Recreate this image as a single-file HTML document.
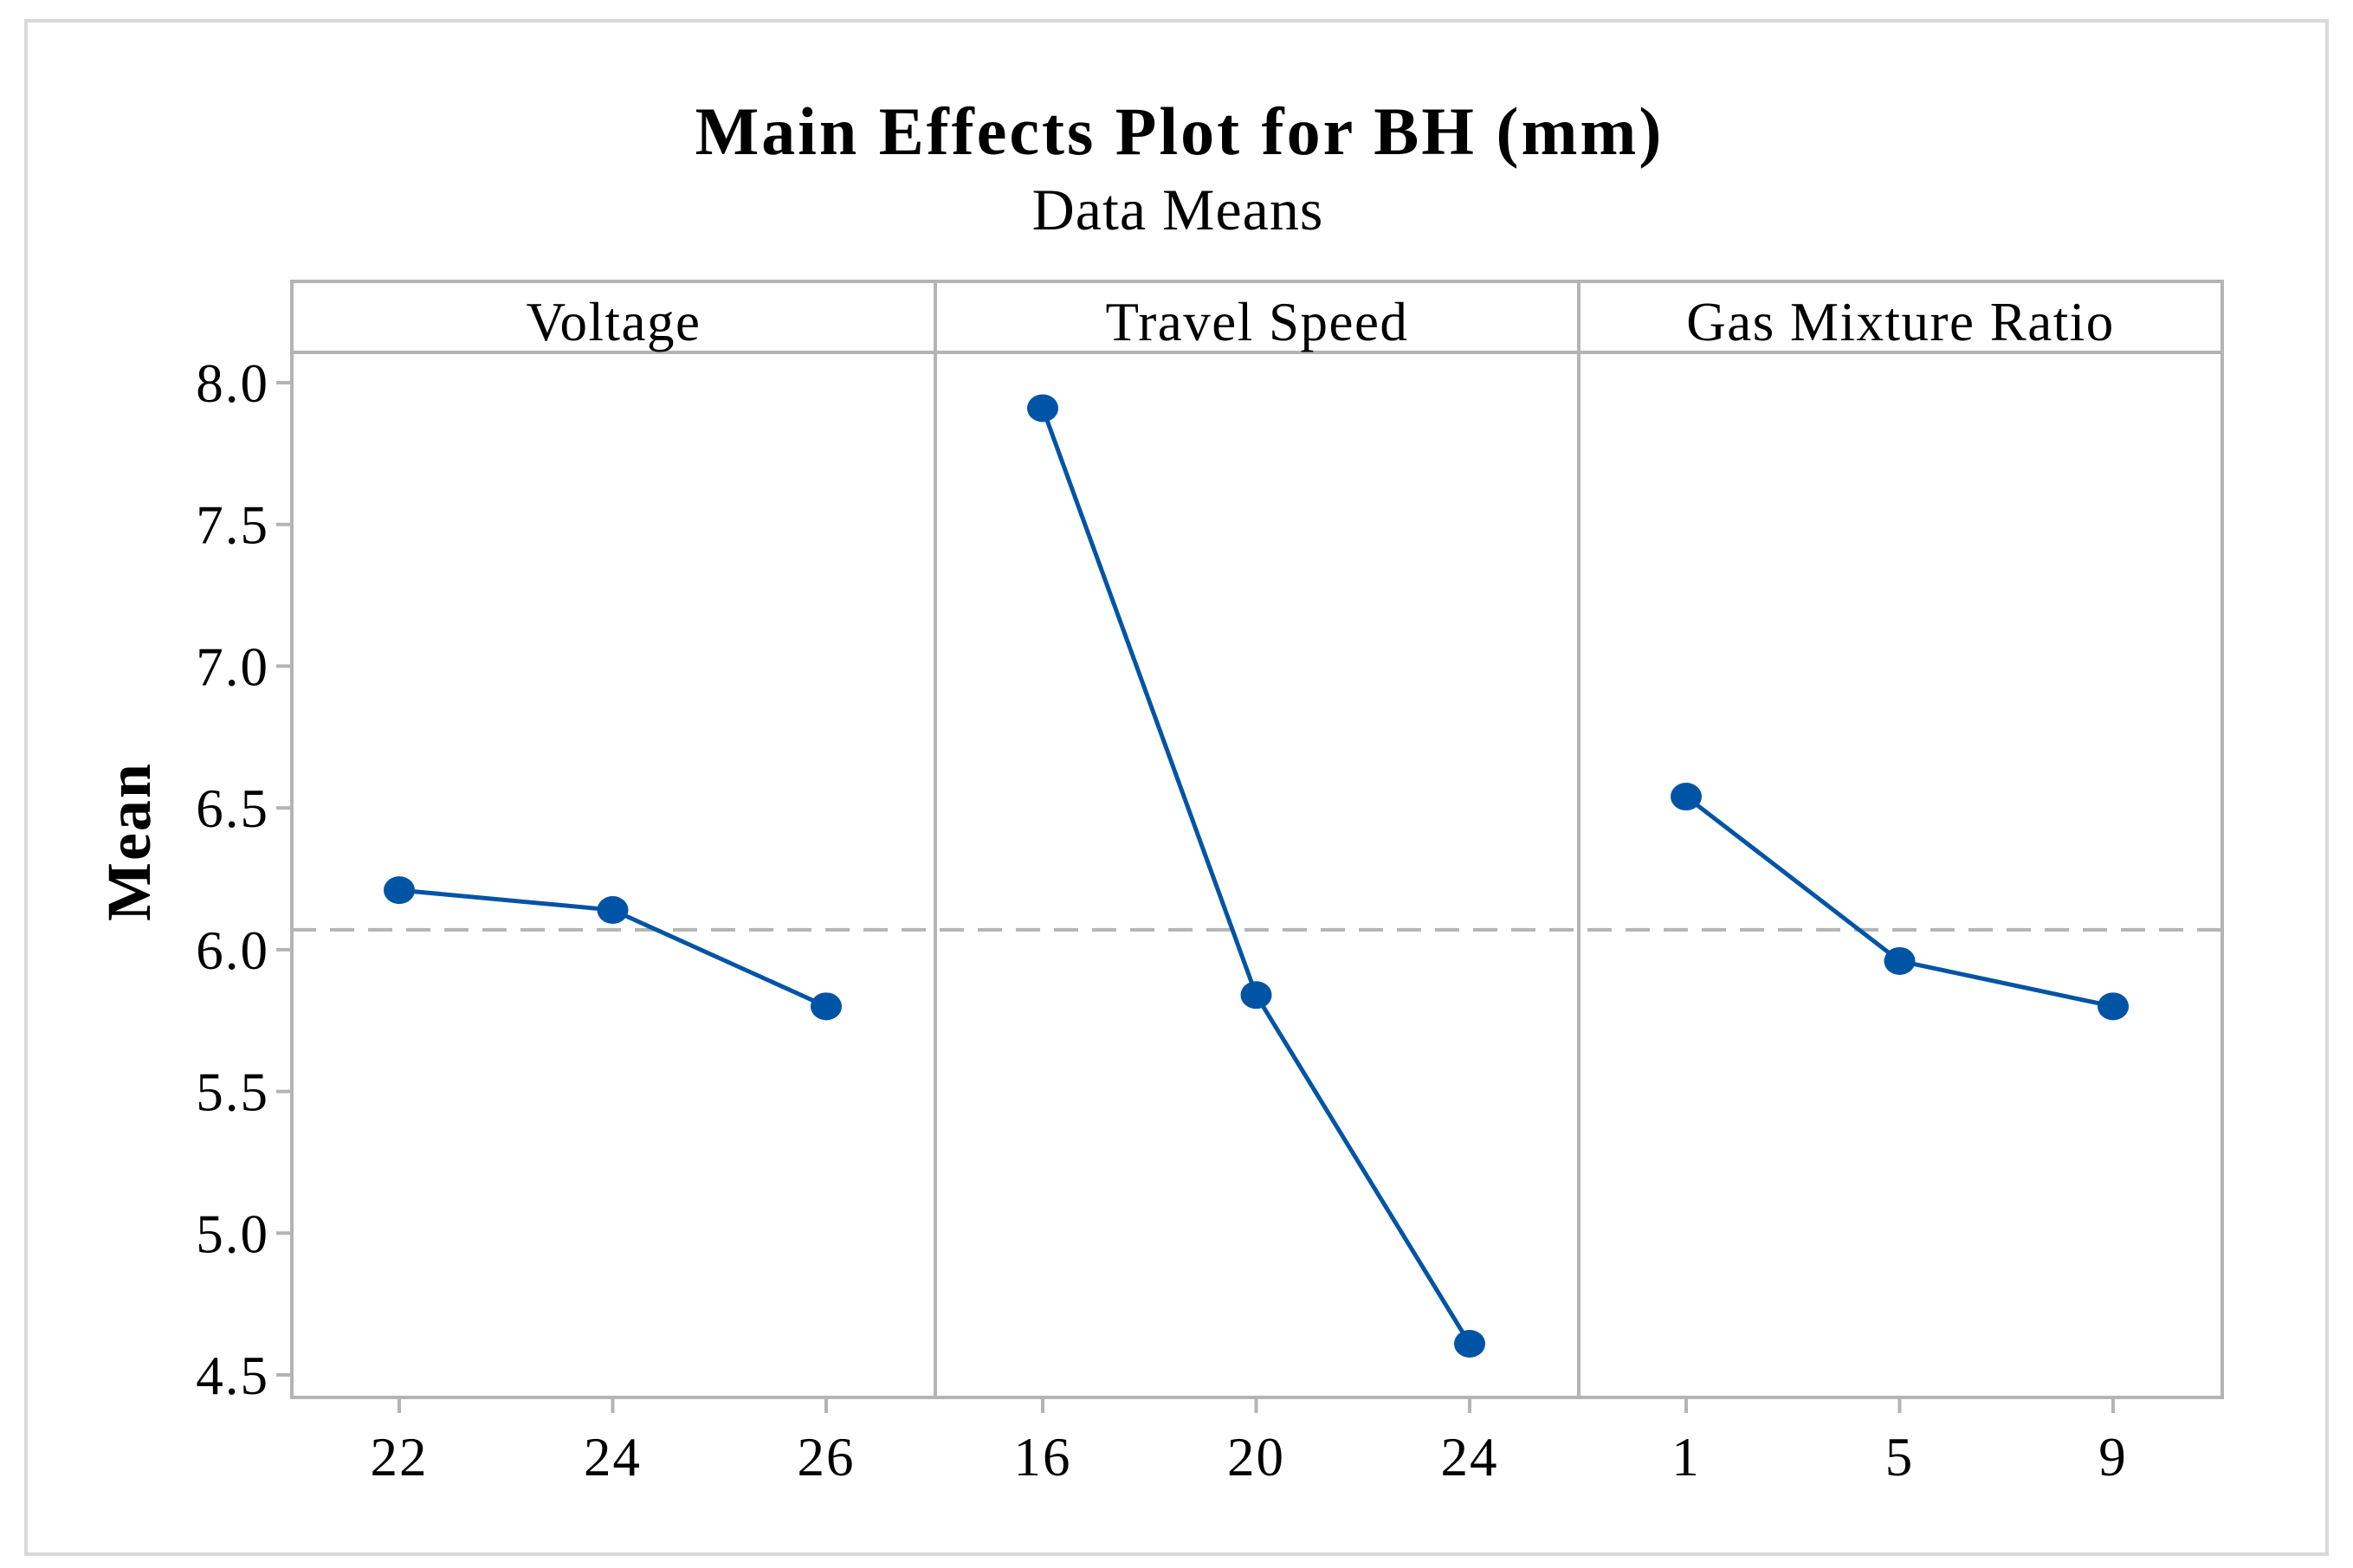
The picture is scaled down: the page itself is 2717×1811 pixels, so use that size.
<!DOCTYPE html>
<html><head><meta charset="utf-8"><style>
html,body{margin:0;padding:0;background:#fff}
svg{display:block}
text{font-family:"Liberation Serif",serif;fill:#000}
</style></head><body>
<svg id="chart" width="2717" height="1811" viewBox="0 0 2717 1811" xmlns="http://www.w3.org/2000/svg">
<rect x="30" y="24" width="2657" height="1771" fill="none" stroke="#d9d9d9" stroke-width="4"/>
<text x="1362" y="178" font-size="78" font-weight="bold" letter-spacing="3" text-anchor="middle">Main Effects Plot for BH (mm)</text>
<text x="1360" y="265" font-size="68" letter-spacing="1" text-anchor="middle">Data Means</text>
<text transform="translate(173,972) rotate(-90)" font-size="72" font-weight="bold" letter-spacing="2" text-anchor="middle">Mean</text>
<g id="plot"></g>
</svg>
<script>
const panels = ["Voltage", "Travel Speed", "Gas Mixture Ratio"];
const levels = [["22","24","26"], ["16","20","24"], ["1","5","9"]];
const meansVoltage = [6.21, 6.14, 5.80];
const meansTravel = [7.91, 5.84, 4.61];
const meansGas = [6.54, 5.96, 5.80];
const grandMean = 6.07;
const yTicks = [4.5, 5.0, 5.5, 6.0, 6.5, 7.0, 7.5, 8.0];

const series = [meansVoltage, meansTravel, meansGas];
const NS = "http://www.w3.org/2000/svg";
const g = document.getElementById('plot');
const L = 337, R = 2566, T = 325, SB = 407, B = 1614;
const panelW = (R - L) / 3;
function y(v){ return 442 + (8.0 - v) * (1588 - 442) / 3.5; }
function x(p, i){ return L + p*panelW + 124 + i*246.5; }
function mk(tag, attrs){ const e=document.createElementNS(NS,tag); for(const k in attrs) e.setAttribute(k,attrs[k]); g.appendChild(e); return e; }
const gray="#b4b4b4";
let ref = mk('line',{x1:L,x2:R,y1:y(grandMean),y2:y(grandMean),stroke:gray,'stroke-width':4,'stroke-dasharray':'28,16'});


yTicks.forEach(t=>{
  let tk = mk('line',{x1:L-18,x2:L,y1:y(t),y2:y(t),stroke:gray,'stroke-width':4});
  
  
  let tx = mk('text',{x:L-26,y:y(t)+22,'font-size':63,'letter-spacing':2,'text-anchor':'end'});
  tx.textContent = t.toFixed(1);
  
  
});
panels.forEach((name,p)=>{
  const px = L + p*panelW;
  let r = mk('rect',{x:px,y:T,width:panelW,height:B-T,fill:'none',stroke:gray,'stroke-width':4});
  
  
  let s = mk('line',{x1:px,x2:px+panelW,y1:SB,y2:SB,stroke:gray,'stroke-width':4});
  
  
  let st = mk('text',{x:px+panelW/2,y:393,'font-size':63,'letter-spacing':1.5,'text-anchor':'middle'});
  st.textContent = name;
  
  
  const vals = series[p];
  let pts = vals.map((v,i)=>x(p,i)+','+y(v)).join(' ');
  let pl = mk('polyline',{points:pts,fill:'none',stroke:'#0054a6','stroke-width':5});
  
  
  levels[p].forEach((lv,i)=>{
    let tk = mk('line',{x1:x(p,i),x2:x(p,i),y1:B,y2:B+18,stroke:gray,'stroke-width':4});
    
    
    let tl = mk('text',{x:x(p,i),y:1704,'font-size':63,'letter-spacing':2,'text-anchor':'middle'});
    tl.textContent = lv;
    
    
    let c = mk('ellipse',{cx:x(p,i),cy:y(vals[i]),rx:18,ry:16,fill:'#0054a6'});
    
    
  });
});
</script>
</body></html>
